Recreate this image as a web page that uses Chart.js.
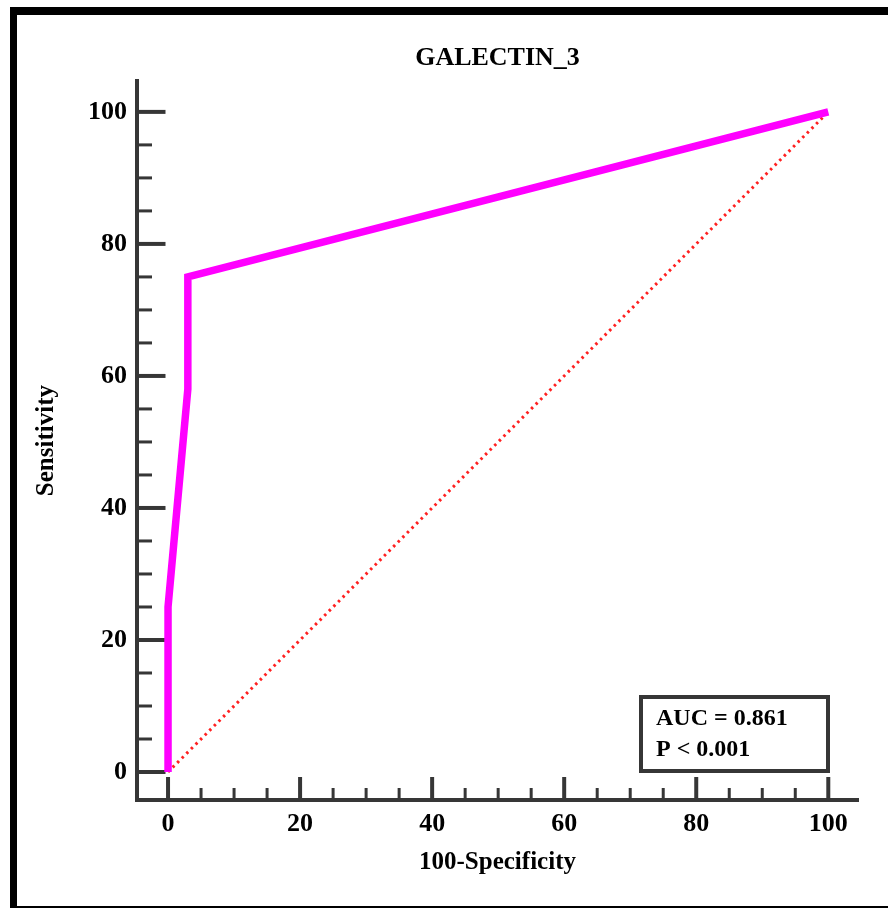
<!DOCTYPE html>
<html>
<head>
<meta charset="utf-8">
<script src="https://cdn.jsdelivr.net/npm/chart.js@4.4.1/dist/chart.umd.min.js"></script>
<style>
html,body{margin:0;padding:0;background:#fff;}
canvas{display:block;}
</style>
</head>
<body>
<canvas id="c" width="888" height="908"></canvas>
<script>
// ---- data ----
const chartTitle = 'GALECTIN_3';
const xAxisTitle = '100-Specificity';
const yAxisTitle = 'Sensitivity';
const rocX = [0, 0, 3, 3, 100];
const rocY = [0, 25, 58, 75, 100];
const refX = [0, 100];
const refY = [0, 100];
const xTickValues = [0, 20, 40, 60, 80, 100];
const yTickValues = [0, 20, 40, 60, 80, 100];
const xMinorTicks = [5, 10, 15, 25, 30, 35, 45, 50, 55, 65, 70, 75, 85, 90, 95];
const yMinorTicks = [5, 10, 15, 25, 30, 35, 45, 50, 55, 65, 70, 75, 85, 90, 95];
const statLines = ['AUC = 0.861', 'P < 0.001'];

// ---- style ----
const axisColor = '#363636';
const serif = "'Liberation Serif','Times New Roman',serif";
Chart.defaults.font.family = serif;

const decor = {
  id: 'decor',
  beforeDraw(chart) {
    const c = chart.ctx;
    c.save();
    c.fillStyle = '#fff';
    c.fillRect(0, 0, chart.width, chart.height);
    c.fillStyle = '#000';
    c.fillRect(10, 7, chart.width - 10, 8);
    c.fillRect(10, 7, 7, chart.height - 7);
    c.fillRect(10, chart.height - 2, chart.width - 10, 2);
    c.restore();
  },
  beforeDatasetsDraw(chart) {
    const c = chart.ctx, xs = chart.scales.x, ys = chart.scales.y, ca = chart.chartArea;
    c.save();
    c.strokeStyle = axisColor;
    c.lineCap = 'butt';
    const vt = (v, len, w) => {
      const p = xs.getPixelForValue(v);
      c.lineWidth = w; c.beginPath(); c.moveTo(p, ca.bottom); c.lineTo(p, ca.bottom - len); c.stroke();
    };
    const ht = (v, len, w) => {
      const p = ys.getPixelForValue(v);
      c.lineWidth = w; c.beginPath(); c.moveTo(ca.left, p); c.lineTo(ca.left + len, p); c.stroke();
    };
    xTickValues.forEach(v => vt(v, 23, 4));
    xMinorTicks.forEach(v => vt(v, 12, 3));
    yTickValues.forEach(v => ht(v, 28.5, 4));
    yMinorTicks.forEach(v => ht(v, 15, 3));
    c.restore();
  },
  afterDraw(chart) {
    const c = chart.ctx, ca = chart.chartArea;
    const bx = ca.right - 217, by = ca.bottom - 103, bw = 187, bh = 74;
    c.save();
    c.fillStyle = '#fff';
    c.fillRect(bx, by, bw, bh);
    c.strokeStyle = axisColor;
    c.lineWidth = 4;
    c.strokeRect(bx, by, bw, bh);
    c.fillStyle = '#000';
    c.font = 'bold 24px ' + serif;
    c.textBaseline = 'alphabetic';
    c.textAlign = 'left';
    c.fillText(statLines[0], bx + 15, by + 28);
    c.fillText(statLines[1], bx + 15, by + 59);
    c.restore();
  }
};

new Chart(document.getElementById('c'), {
  type: 'scatter',
  data: {
    datasets: [
      {
        data: rocX.map((x, i) => ({ x: x, y: rocY[i] })),
        showLine: true,
        borderColor: '#ff00ff',
        borderWidth: 7.5,
        pointRadius: 0,
        borderJoinStyle: 'miter',
        borderCapStyle: 'butt',
        tension: 0,
        fill: false
      },
      {
        data: refX.map((x, i) => ({ x: x, y: refY[i] })),
        showLine: true,
        borderColor: '#ff2020',
        borderWidth: 3,
        borderDash: [2.5, 4],
        pointRadius: 0,
        tension: 0,
        fill: false
      }
    ]
  },
  options: {
    responsive: false,
    animation: false,
    events: [],
    layout: { padding: { left: 0, right: 30, top: 0, bottom: 0 } },
    plugins: {
      legend: { display: false },
      tooltip: { enabled: false },
      title: {
        display: true,
        text: chartTitle,
        fullSize: false,
        color: '#000',
        font: { size: 26, weight: 'bold', family: serif },
        padding: { top: 43, bottom: 7 }
      }
    },
    scales: {
      x: {
        type: 'linear',
        position: 'bottom',
        min: -4.7,
        max: 104.5,
        afterBuildTicks: s => { s.ticks = xTickValues.map(v => ({ value: v })); },
        afterFit: s => { s.height = 108; },
        grid: { display: true, drawOnChartArea: false, drawTicks: false, color: 'rgba(0,0,0,0)' },
        border: { display: true, color: axisColor, width: 4 },
        ticks: { color: '#000', font: { size: 26, weight: 'bold', family: serif }, padding: 9, maxRotation: 0, autoSkip: false },
        title: { display: true, text: xAxisTitle, color: '#000', font: { size: 25, weight: 'bold', family: serif }, padding: { top: 0, bottom: 30 } }
      },
      y: {
        type: 'linear',
        position: 'left',
        min: -4.24,
        max: 104.65,
        afterBuildTicks: s => { s.ticks = yTickValues.map(v => ({ value: v })); },
        afterFit: s => { s.width = 137; },
        grid: { display: true, drawOnChartArea: false, drawTicks: false, color: 'rgba(0,0,0,0)' },
        border: { display: true, color: axisColor, width: 4 },
        ticks: { color: '#000', font: { size: 26, weight: 'bold', family: serif }, padding: 10, autoSkip: false },
        title: { display: true, text: yAxisTitle, color: '#000', font: { size: 25, weight: 'bold', family: serif }, padding: { top: 32, bottom: 0 } }
      }
    }
  },
  plugins: [decor]
});
</script>
</body>
</html>
